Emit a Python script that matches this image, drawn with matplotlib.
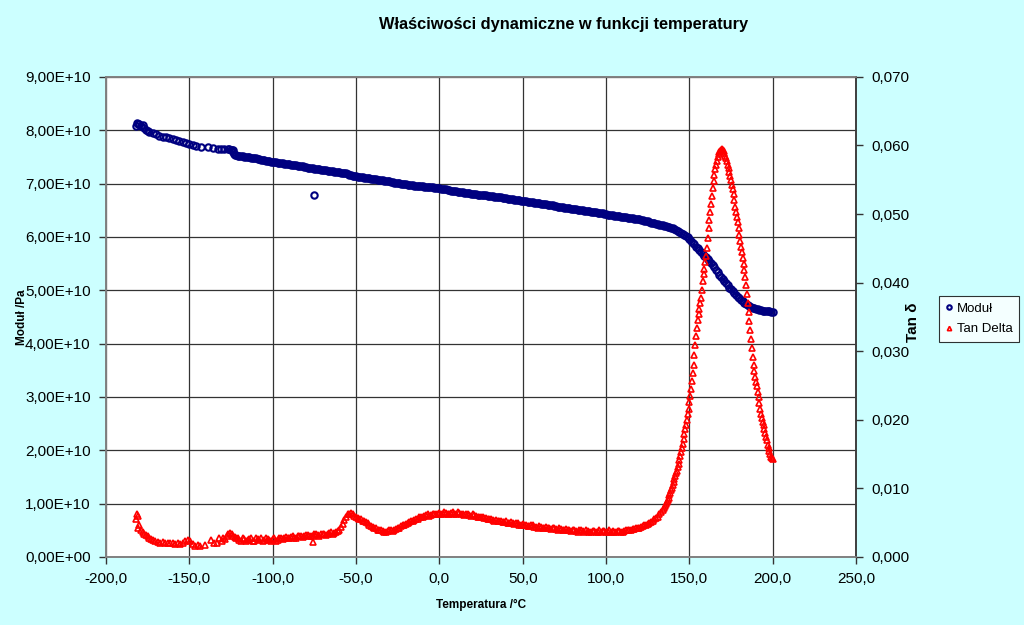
import matplotlib
matplotlib.use('Agg')
import matplotlib.pyplot as plt
from matplotlib.ticker import FuncFormatter, MultipleLocator

plt.rcParams['font.family'] = ['Liberation Sans', 'DejaVu Sans']

# Moduł /Pa (wartości w 1E10) - część 1
modul_t = [-182.0, -181.5, -181.0, -180.0, -179.0, -178.0, -177.0, -176.0, -175.0, -174.0,
           -172.0, -170.0, -168.0, -166.0, -164.0, -162.0, -160.0, -158.0, -156.0, -154.0,
           -152.0, -150.0, -148.0, -146.0, -143.0, -139.0, -136.0, -133.0, -131.0, -129.0,
           -127.0, -126.0, -125.0, -124.5, -124.0, -123.5, -123.0, -122.5, -75.5,
           -122, -120, -118, -116, -114, -112, -110, -108, -106, -104, -102, -100,
           -98, -96, -94, -92, -90, -88, -86, -84, -82, -80, -78, -76, -74, -72, -70,
           -68, -66, -64, -62, -60, -58, -56, -54, -52, -50, -48, -46, -44, -42, -40,
           -38, -36, -34, -32, -30, -28, -26, -24, -22, -20, -18, -16, -14, -12, -10,
           -8, -6, -4, -2, 0, 2, 4, 6, 8, 10, 12, 14, 16, 18, 20, 22, 24, 26, 28, 30,
           32, 34, 36, 38, 40, 42, 44, 46, 48, 50, 52, 54, 56, 58, 60, 62, 64, 66, 68, 70,
           72, 74, 76, 78, 80, 82, 84, 86, 88, 90, 92, 94, 96, 98, 100, 102, 104, 106, 108, 110,
           112, 114, 116, 118, 120, 122, 124, 126, 128, 130, 132, 134, 136, 138, 140,
           142, 144, 146, 148, 150, 152, 154, 156, 158, 160, 162, 164, 166, 168, 170,
           172, 174, 176, 178, 180, 182, 184, 186, 188, 190, 192, 194, 196, 198, 200]
modul_v = [8.07, 8.13, 8.11, 8.12, 8.08, 8.10, 8.04, 8.01, 7.99, 7.97,
           7.95, 7.92, 7.90, 7.88, 7.87, 7.85, 7.83, 7.81, 7.79, 7.78,
           7.76, 7.74, 7.72, 7.70, 7.69, 7.68, 7.66, 7.65, 7.65, 7.65,
           7.64, 7.64, 7.63, 7.63, 7.62, 7.59, 7.56, 7.54, 6.78,
           7.53, 7.52, 7.51, 7.50, 7.49, 7.48, 7.47, 7.46, 7.45, 7.43, 7.42, 7.41,
           7.40, 7.39, 7.38, 7.37, 7.36, 7.35, 7.34, 7.33, 7.32, 7.31, 7.30, 7.29, 7.28, 7.27, 7.26,
           7.25, 7.24, 7.23, 7.22, 7.21, 7.20, 7.19, 7.17, 7.15, 7.14, 7.13, 7.12, 7.11, 7.10, 7.09,
           7.08, 7.07, 7.06, 7.05, 7.04, 7.03, 7.02, 7.01, 7.00, 6.99, 6.98, 6.97, 6.96, 6.95, 6.95,
           6.94, 6.93, 6.93, 6.92, 6.91, 6.90, 6.89, 6.88, 6.87, 6.86, 6.85, 6.84, 6.83, 6.82, 6.81,
           6.80, 6.79, 6.78, 6.78, 6.77, 6.76, 6.75, 6.74, 6.73, 6.73, 6.72, 6.71, 6.70, 6.69, 6.68,
           6.67, 6.66, 6.65, 6.64, 6.63, 6.62, 6.61, 6.60, 6.59, 6.58, 6.57, 6.56, 6.55, 6.54, 6.53,
           6.52, 6.51, 6.50, 6.49, 6.48, 6.47, 6.46, 6.45, 6.44, 6.43, 6.42, 6.41, 6.40, 6.39, 6.38,
           6.37, 6.36, 6.35, 6.34, 6.33, 6.31, 6.30, 6.28, 6.27, 6.25, 6.23, 6.22, 6.20, 6.18, 6.16,
           6.13, 6.10, 6.06, 6.01, 5.96, 5.89, 5.82, 5.75, 5.68, 5.62, 5.55, 5.47, 5.38, 5.29, 5.21,
           5.13, 5.05, 4.98, 4.91, 4.85, 4.79, 4.74, 4.70, 4.67, 4.65, 4.63, 4.62, 4.61, 4.61, 4.60]

# Moduł - część 2 (pomiary pośrednie)
modul_t2 = [-121, -119, -117, -115, -113, -111, -109, -107, -105, -103,
            -101, -99, -97, -95, -93, -91, -89, -87, -85, -83,
            -81, -79, -77, -75, -73, -71, -69, -67, -65, -63,
            -61, -59, -57, -55, -53, -51, -49, -47, -45, -43,
            -41, -39, -37, -35, -33, -31, -29, -27, -25, -23,
            -21, -19, -17, -15, -13, -11, -9, -7, -5, -3,
            -1, 1, 3, 5, 7, 9, 11, 13, 15, 17,
            19, 21, 23, 25, 27, 29, 31, 33, 35, 37,
            39, 41, 43, 45, 47, 49, 51, 53, 55, 57,
            59, 61, 63, 65, 67, 69, 71, 73, 75, 77,
            79, 81, 83, 85, 87, 89, 91, 93, 95, 97,
            99, 101, 103, 105, 107, 109, 111, 113, 115, 117,
            119, 121, 123, 125, 127, 129, 131, 133, 135, 137,
            139, 141, 143, 145, 147, 149, 151, 153, 155, 157,
            159, 161, 163, 165, 167, 169, 171, 173, 175, 177,
            179, 181, 183, 185, 187, 189, 191, 193, 195, 197,
            199]
modul_v2 = [7.52, 7.51, 7.50, 7.49, 7.48, 7.47, 7.46, 7.45, 7.44, 7.43,
            7.41, 7.40, 7.39, 7.38, 7.37, 7.36, 7.35, 7.34, 7.33, 7.32,
            7.31, 7.30, 7.29, 7.28, 7.27, 7.26, 7.25, 7.24, 7.23, 7.22,
            7.21, 7.20, 7.19, 7.18, 7.16, 7.14, 7.13, 7.12, 7.11, 7.10,
            7.09, 7.08, 7.07, 7.06, 7.05, 7.04, 7.03, 7.02, 7.01, 7.00,
            6.99, 6.98, 6.97, 6.96, 6.95, 6.95, 6.94, 6.93, 6.93, 6.92,
            6.91, 6.90, 6.89, 6.88, 6.87, 6.86, 6.85, 6.84, 6.83, 6.82,
            6.81, 6.80, 6.79, 6.79, 6.78, 6.77, 6.76, 6.75, 6.74, 6.74,
            6.73, 6.72, 6.71, 6.70, 6.69, 6.68, 6.67, 6.66, 6.65, 6.64,
            6.63, 6.62, 6.61, 6.60, 6.59, 6.58, 6.57, 6.56, 6.55, 6.54,
            6.53, 6.52, 6.51, 6.50, 6.49, 6.48, 6.47, 6.46, 6.45, 6.44,
            6.43, 6.42, 6.41, 6.40, 6.39, 6.38, 6.37, 6.36, 6.35, 6.34,
            6.33, 6.32, 6.30, 6.29, 6.27, 6.26, 6.24, 6.22, 6.21, 6.19,
            6.17, 6.15, 6.12, 6.08, 6.04, 5.99, 5.93, 5.86, 5.79, 5.72,
            5.65, 5.58, 5.51, 5.43, 5.34, 5.25, 5.17, 5.09, 5.02, 4.95,
            4.88, 4.82, 4.77, 4.72, 4.69, 4.66, 4.64, 4.63, 4.62, 4.61,
            4.60]

# Tan delta - część 1
tan_t = [-182.0, -181.5, -181.0, -180.5, -180.0, -179.0, -178.0, -177.0, -176.0, -175.0,
         -174.0, -173.0, -172.0, -170.5, -169.0, -167.5, -166.0, -164.5, -163.0, -161.5,
         -160.0, -158.5, -157.0, -155.5, -154.0, -152.5, -151.0, -149.5, -148.0, -146.5,
         -145.0, -143.5, -140.5, -137.0, -135.0, -133.5, -132.0, -130.5, -129.5, -128.5,
         -127.5, -126.5, -125.5, -124.5, -123.5, -122.5, -75.8,
         -122, -120, -118, -116, -114, -112, -110, -108, -106, -104, -102, -100,
         -98, -96, -94, -92, -90, -88, -86, -84, -82, -80, -78, -76, -74, -72, -70,
         -68, -66, -64, -62, -60, -58, -56, -54, -52, -50, -48, -46, -44, -42, -40,
         -38, -36, -34, -32, -30, -28, -26, -24, -22, -20, -18, -16, -14, -12, -10,
         -8, -6, -4, -2, 0, 2, 4, 6, 8, 10, 12, 14, 16, 18, 20, 22, 24, 26, 28, 30,
         32, 34, 36, 38, 40, 42, 44, 46, 48, 50, 52, 54, 56, 58, 60, 62, 64, 66, 68, 70,
         72, 74, 76, 78, 80, 82, 84, 86, 88, 90, 92, 94, 96, 98, 100, 102, 104, 106, 108, 110,
         112, 114, 116, 118, 120, 122, 124, 126, 128, 130, 132, 134,
         135.0, 135.5, 136.0, 136.5, 137.0, 137.5, 138.0, 138.5, 139.0, 139.5,
         140.0, 140.5, 141.0, 141.5, 142.0, 142.5, 143.0, 143.5, 144.0, 144.5,
         145.0, 145.5, 146.0, 146.5, 147.0, 147.5, 148.0, 148.5, 149.0, 149.5,
         150.0, 150.5, 151.0, 151.5, 152.0, 152.5, 153.0, 153.5, 154.0, 154.5,
         155.0, 155.5, 156.0, 156.5, 157.0, 157.5, 158.0, 158.5, 159.0, 159.5,
         160.0, 160.5, 161.0, 161.5, 162.0, 162.5, 163.0, 163.5, 164.0, 164.5,
         165.0, 165.5, 166.0, 166.5, 167.0, 167.5, 168.0, 168.5, 169.0, 169.5,
         170.0, 170.5, 171.0, 171.5, 172.0, 172.5, 173.0, 173.5, 174.0, 174.5,
         175.0, 175.5, 176.0, 176.5, 177.0, 177.5, 178.0, 178.5, 179.0, 179.5,
         180.0, 180.5, 181.0, 181.5, 182.0, 182.5, 183.0, 183.5, 184.0, 184.5,
         185.0, 185.5, 186.0, 186.5, 187.0, 187.5, 188.0, 188.5, 189.0, 189.5,
         190.0, 190.5, 191.0, 191.5, 192.0, 192.5, 193.0, 193.5, 194.0, 194.5,
         195.0, 195.5, 196.0, 196.5, 197.0, 197.5, 198.0, 198.5, 199.0, 199.5, 200.0]
tan_v = [0.0056, 0.0063, 0.0060, 0.0042, 0.0047, 0.0040, 0.0036, 0.0034, 0.0032, 0.0030,
         0.0028, 0.0026, 0.0025, 0.0023, 0.0022, 0.0021, 0.0022, 0.0020, 0.0021, 0.0020,
         0.0021, 0.0019, 0.0020, 0.0019, 0.0020, 0.0024, 0.0025, 0.0023, 0.0019, 0.0016,
         0.0017, 0.0016, 0.0018, 0.0025, 0.0020, 0.0021, 0.0027, 0.0024, 0.0028, 0.0026,
         0.0030, 0.0033, 0.0035, 0.0034, 0.0031, 0.0029, 0.0022,
         0.0028, 0.0025, 0.0027, 0.0024, 0.0026, 0.0023, 0.0027, 0.0025, 0.0024, 0.0027, 0.0025, 0.0026,
         0.0024, 0.0027, 0.0026, 0.0029, 0.0027, 0.0030, 0.0028, 0.0031, 0.0029, 0.0032, 0.0030, 0.0031,
         0.0033, 0.0031, 0.0034, 0.0032, 0.0035, 0.0034, 0.0037, 0.0040, 0.0048, 0.0059, 0.0063, 0.0062,
         0.0058, 0.0056, 0.0053, 0.0051, 0.0047, 0.0044, 0.0042, 0.0039, 0.0038, 0.0037, 0.0039, 0.0038,
         0.0041, 0.0043, 0.0046, 0.0048, 0.0051, 0.0053, 0.0055, 0.0058, 0.0059, 0.0061, 0.0060, 0.0062,
         0.0063, 0.0064, 0.0062, 0.0064, 0.0063, 0.0065, 0.0063, 0.0064, 0.0062, 0.0063, 0.0061, 0.0062,
         0.0060, 0.0059, 0.0058, 0.0057, 0.0055, 0.0054, 0.0054, 0.0052, 0.0051, 0.0052, 0.0050, 0.0049,
         0.0050, 0.0047, 0.0048, 0.0046, 0.0045, 0.0046, 0.0044, 0.0045, 0.0043, 0.0044, 0.0042, 0.0043,
         0.0041, 0.0042, 0.0040, 0.0041, 0.0039, 0.0040, 0.0038, 0.0039, 0.0038, 0.0039, 0.0037, 0.0038,
         0.0037, 0.0039, 0.0038, 0.0037, 0.0039, 0.0038, 0.0036, 0.0038, 0.0037, 0.0039, 0.0040, 0.0041,
         0.0042, 0.0043, 0.0045, 0.0047, 0.0050, 0.0053, 0.0057, 0.0062, 0.0069,
         0.0072, 0.0075, 0.0077, 0.0080, 0.0083, 0.0086, 0.0090, 0.0093, 0.0097, 0.0101,
         0.0105, 0.0110, 0.0114, 0.0118, 0.0122, 0.0126, 0.0131, 0.0136, 0.0141, 0.0147,
         0.0153, 0.0159, 0.0165, 0.0172, 0.0179, 0.0186, 0.0193, 0.0200, 0.0208, 0.0216,
         0.0226, 0.0235, 0.0245, 0.0256, 0.0268, 0.0280, 0.0295, 0.0309, 0.0322, 0.0334,
         0.0345, 0.0354, 0.0362, 0.0370, 0.0377, 0.0390, 0.0402, 0.0412, 0.0420, 0.0430,
         0.0439, 0.0451, 0.0465, 0.0479, 0.0491, 0.0503, 0.0514, 0.0526, 0.0538, 0.0548,
         0.0557, 0.0565, 0.0572, 0.0578, 0.0583, 0.0587, 0.0590, 0.0592, 0.0594, 0.0595,
         0.0594, 0.0592, 0.0589, 0.0585, 0.0581, 0.0577, 0.0572, 0.0567, 0.0562, 0.0556,
         0.0550, 0.0543, 0.0536, 0.0529, 0.0520, 0.0511, 0.0503, 0.0496, 0.0488, 0.0479,
         0.0469, 0.0461, 0.0452, 0.0444, 0.0436, 0.0427, 0.0418, 0.0408, 0.0397, 0.0384,
         0.0370, 0.0357, 0.0344, 0.0331, 0.0318, 0.0305, 0.0292, 0.0280, 0.0271, 0.0262,
         0.0255, 0.0249, 0.0241, 0.0233, 0.0224, 0.0216, 0.0209, 0.0203, 0.0197, 0.0192,
         0.0186, 0.0181, 0.0175, 0.0170, 0.0164, 0.0159, 0.0154, 0.0150, 0.0146, 0.0145, 0.0143]

# Tan delta - część 2 (pomiary pośrednie)
tan_t2 = [-121, -119, -117, -115, -113, -111, -109, -107, -105, -103,
          -101, -99, -97, -95, -93, -91, -89, -87, -85, -83,
          -81, -79, -77, -75, -73, -71, -69, -67, -65, -63,
          -61, -59, -57, -55, -53, -51, -49, -47, -45, -43,
          -41, -39, -37, -35, -33, -31, -29, -27, -25, -23,
          -21, -19, -17, -15, -13, -11, -9, -7, -5, -3,
          -1, 1, 3, 5, 7, 9, 11, 13, 15, 17,
          19, 21, 23, 25, 27, 29, 31, 33, 35, 37,
          39, 41, 43, 45, 47, 49, 51, 53, 55, 57,
          59, 61, 63, 65, 67, 69, 71, 73, 75, 77,
          79, 81, 83, 85, 87, 89, 91, 93, 95, 97,
          99, 101, 103, 105, 107, 109, 111, 113, 115, 117,
          119, 121, 123, 125, 127, 129, 131, 133]
tan_v2 = [0.0027, 0.0024, 0.0026, 0.0025, 0.0027, 0.0024, 0.0026, 0.0027, 0.0025, 0.0026,
          0.0024, 0.0027, 0.0025, 0.0028, 0.0027, 0.0028, 0.0029, 0.0028, 0.0030, 0.0031,
          0.0030, 0.0032, 0.0030, 0.0033, 0.0032, 0.0033, 0.0034, 0.0033, 0.0036, 0.0035,
          0.0038, 0.0044, 0.0054, 0.0062, 0.0064, 0.0060, 0.0057, 0.0055, 0.0052, 0.0049,
          0.0045, 0.0043, 0.0040, 0.0039, 0.0037, 0.0038, 0.0039, 0.0040, 0.0042, 0.0045,
          0.0047, 0.0050, 0.0052, 0.0054, 0.0056, 0.0058, 0.0060, 0.0062, 0.0061, 0.0063,
          0.0062, 0.0063, 0.0065, 0.0063, 0.0064, 0.0063, 0.0065, 0.0063, 0.0061, 0.0062,
          0.0060, 0.0061, 0.0059, 0.0058, 0.0057, 0.0056, 0.0055, 0.0053, 0.0052, 0.0053,
          0.0051, 0.0050, 0.0051, 0.0048, 0.0049, 0.0046, 0.0047, 0.0045, 0.0046, 0.0044,
          0.0043, 0.0044, 0.0042, 0.0043, 0.0041, 0.0042, 0.0040, 0.0041, 0.0039, 0.0040,
          0.0038, 0.0039, 0.0037, 0.0039, 0.0037, 0.0038, 0.0036, 0.0038, 0.0036, 0.0037,
          0.0038, 0.0036, 0.0037, 0.0036, 0.0038, 0.0036, 0.0038, 0.0039, 0.0040, 0.0041,
          0.0043, 0.0044, 0.0046, 0.0048, 0.0051, 0.0055, 0.0059, 0.0065]

tlo = '#CCFFFF'
fig = plt.figure(figsize=(10.24, 6.25), dpi=100, facecolor=tlo)
ax1 = fig.add_axes([0.1035, 0.1088, 0.7325, 0.7682])
ax1.set_facecolor('white')

ax1.plot(modul_t + modul_t2, [v * 1e10 for v in modul_v + modul_v2], linestyle='none',
         marker='o', markersize=4.6, markerfacecolor='none', markeredgecolor='#000080',
         markeredgewidth=1.5, label='Moduł')
ax1.set_xlim(-200, 250)
ax1.set_ylim(0, 9e10)
ax1.xaxis.set_major_locator(MultipleLocator(50))
ax1.yaxis.set_major_locator(MultipleLocator(1e10))
ax1.grid(True, color='#333333', linewidth=0.9)
ax1.set_axisbelow(True)
ax1.yaxis.set_major_formatter(FuncFormatter(
    lambda v, p: ('%.2E' % v).replace('.', ',')))
ax1.xaxis.set_major_formatter(FuncFormatter(
    lambda v, p: ('%.1f' % v).replace('.', ',')))

ax2 = ax1.twinx()
ax2.plot(tan_t + tan_t2, tan_v + tan_v2, linestyle='none', marker='^', markersize=4.4,
         markerfacecolor='none', markeredgecolor='#FF0000', markeredgewidth=1.2,
         label='Tan Delta')
ax2.set_ylim(0, 0.070)
ax2.yaxis.set_major_locator(MultipleLocator(0.010))
ax2.yaxis.set_major_formatter(FuncFormatter(
    lambda v, p: ('%.3f' % v).replace('.', ',')))

for ax in (ax1, ax2):
    for s in ax.spines.values():
        s.set_color('#808080')
        s.set_linewidth(1.2)
    ax.tick_params(labelsize=11, direction='out', length=5, width=1, color='#333333', pad=6)
ax2.spines['right'].set_color('#333333')

fig.text(0.55, 0.96, 'Właściwości dynamiczne w funkcji temperatury',
         ha='center', va='center', fontsize=11.75, fontweight='bold')
ax1.set_xlabel('Temperatura /°C', fontsize=8.5, fontweight='bold', labelpad=9.5)
fig.text(0.0215, 0.493, 'Moduł /Pa', rotation=90, ha='center', va='center',
         fontsize=8.5, fontweight='bold')
fig.text(0.892, 0.485, 'Tan δ', rotation=90, ha='center', va='center',
         fontsize=11, fontweight='bold')

h1, l1 = ax1.get_legend_handles_labels()
h2, l2 = ax2.get_legend_handles_labels()
leg = fig.legend(h1 + h2, l1 + l2, loc='center', bbox_to_anchor=(0.956, 0.4896),
                 fontsize=9.5, frameon=True, fancybox=False, handlelength=0.6,
                 handletextpad=0.3, borderpad=0.5, labelspacing=0.6, markerscale=0.7)
leg.get_frame().set_edgecolor('black')
leg.get_frame().set_linewidth(0.8)

plt.savefig('out.png', dpi=100, facecolor=tlo)
